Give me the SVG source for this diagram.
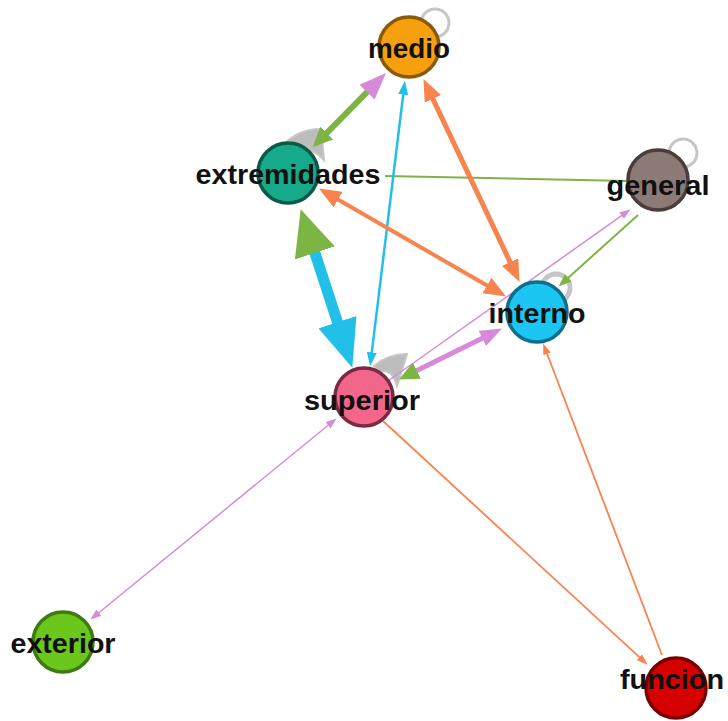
<svg xmlns="http://www.w3.org/2000/svg" width="728" height="721" viewBox="0 0 728 721">
<style>
.e{fill:none;stroke-linecap:butt}
.g{stroke:#7DB544}.v{stroke:#D68AD9}.o{stroke:#F7844F}.c{stroke:#22C0E8}
.loop{fill:none;stroke:#C6C6C6}
.n{stroke-width:3.5}
.lbl{font-family:"Liberation Sans",Arial,Helvetica,sans-serif;font-weight:bold;font-size:28px;fill:#111;text-anchor:middle}
</style>
<defs>
<marker id="vS" viewBox="0 0 10 10" refX="0.5" refY="5" markerWidth="11" markerHeight="8" preserveAspectRatio="none" orient="auto-start-reverse" markerUnits="userSpaceOnUse"><path d="M0,0L10,5L0,10Z" fill="#D68AD9"/></marker>
<marker id="vM" viewBox="0 0 10 10" refX="0.5" refY="5" markerWidth="22" markerHeight="17" preserveAspectRatio="none" orient="auto-start-reverse" markerUnits="userSpaceOnUse"><path d="M0,0L10,5L0,10Z" fill="#D68AD9"/></marker>
<marker id="vL" viewBox="0 0 10 10" refX="0.5" refY="5" markerWidth="27" markerHeight="21" preserveAspectRatio="none" orient="auto-start-reverse" markerUnits="userSpaceOnUse"><path d="M0,0L10,5L0,10Z" fill="#D68AD9"/></marker>
<marker id="oS" viewBox="0 0 10 10" refX="0.5" refY="5" markerWidth="11" markerHeight="8" preserveAspectRatio="none" orient="auto-start-reverse" markerUnits="userSpaceOnUse"><path d="M0,0L10,5L0,10Z" fill="#F7844F"/></marker>
<marker id="oM" viewBox="0 0 10 10" refX="0.5" refY="5" markerWidth="22" markerHeight="18" preserveAspectRatio="none" orient="auto-start-reverse" markerUnits="userSpaceOnUse"><path d="M0,0L10,5L0,10Z" fill="#F7844F"/></marker>
<marker id="gS" viewBox="0 0 10 10" refX="0.5" refY="5" markerWidth="13" markerHeight="10" preserveAspectRatio="none" orient="auto-start-reverse" markerUnits="userSpaceOnUse"><path d="M0,0L10,5L0,10Z" fill="#7DB544"/></marker>
<marker id="gM" viewBox="0 0 10 10" refX="0.5" refY="5" markerWidth="20" markerHeight="18" preserveAspectRatio="none" orient="auto-start-reverse" markerUnits="userSpaceOnUse"><path d="M0,0L10,5L0,10Z" fill="#7DB544"/></marker>
<marker id="gL" viewBox="0 0 10 10" refX="0.5" refY="5" markerWidth="46" markerHeight="42" preserveAspectRatio="none" orient="auto-start-reverse" markerUnits="userSpaceOnUse"><path d="M0,0L10,5L0,10Z" fill="#7DB544"/></marker>
<marker id="cS" viewBox="0 0 10 10" refX="0.5" refY="5" markerWidth="14" markerHeight="10" preserveAspectRatio="none" orient="auto-start-reverse" markerUnits="userSpaceOnUse"><path d="M0,0L10,5L0,10Z" fill="#22C0E8"/></marker>
<marker id="cL" viewBox="0 0 10 10" refX="0.5" refY="5" markerWidth="48" markerHeight="40" preserveAspectRatio="none" orient="auto-start-reverse" markerUnits="userSpaceOnUse"><path d="M0,0L10,5L0,10Z" fill="#22C0E8"/></marker>
</defs>
<rect width="728" height="721" fill="#fff"/>
<g id="connectors">
<circle class="loop" cx="435" cy="23" r="14" stroke-width="3"/>
<circle class="loop" cx="683" cy="153" r="14" stroke-width="3"/>
<circle class="loop" cx="556" cy="288" r="14" stroke-width="5"/>
<path d="M282,146 Q298,129 321,129 L324,160 Q312,146 292,150 Z" fill="#BDBDBD" stroke="#C6C6C6" stroke-width="2"/>
<path d="M374,366 Q388,354 407,354 L397,386 Q392,368 380,372 Z" fill="#BDBDBD" stroke="#C6C6C6" stroke-width="2"/>
<line class="e g" x1="385" y1="176" x2="628" y2="181" stroke-width="2"/>
<line class="e c" x1="403.3" y1="93.9" x2="371.7" y2="353.1" stroke-width="2.5" marker-start="url(#cS)" marker-end="url(#cS)"/>
<line class="e o" x1="432.4" y1="97.9" x2="510.6" y2="263.1" stroke-width="5" marker-start="url(#oM)" marker-end="url(#oM)"/>
<line class="e o" x1="337.1" y1="199" x2="487.9" y2="286" stroke-width="4" marker-start="url(#oM)" marker-end="url(#oM)"/>
<line class="e g" x1="368" y1="91.2" x2="326" y2="133.8" stroke-width="6" marker-start="url(#vL)" marker-end="url(#gM)"/>
<line class="e c" x1="314.2" y1="250.7" x2="338.2" y2="324.4" stroke-width="11" marker-start="url(#gL)" marker-end="url(#cL)"/>
<line class="e g" x1="567.7" y1="278.3" x2="638" y2="215" stroke-width="2" marker-start="url(#gS)"/>
<line class="e v" x1="388" y1="381" x2="622" y2="215.4" stroke-width="1.5" marker-end="url(#vS)"/>
<line class="e v" x1="415.9" y1="371.1" x2="483.3" y2="337.8" stroke-width="5" marker-start="url(#gM)" marker-end="url(#vM)"/>
<line class="e v" x1="328.5" y1="425" x2="98.5" y2="613" stroke-width="1.5" marker-start="url(#vS)" marker-end="url(#vS)"/>
<line class="e o" x1="383" y1="421" x2="639.9" y2="657.6" stroke-width="1.8" marker-end="url(#oS)"/>
<line class="e o" x1="662" y1="655" x2="546.9" y2="353.3" stroke-width="1.8" marker-end="url(#oS)"/>
</g>
<g id="node-medio"><circle class="n" cx="409" cy="47" r="30" fill="#F5A00C" stroke="#8A5A08"/><text class="lbl" x="409" y="58" textLength="82" lengthAdjust="spacingAndGlyphs">medio</text></g>
<g id="node-extremidades"><circle class="n" cx="288" cy="173" r="30" fill="#16A98A" stroke="#0B5A48"/><text class="lbl" x="288" y="184" textLength="185" lengthAdjust="spacingAndGlyphs">extremidades</text></g>
<g id="node-general"><circle class="n" cx="658" cy="180" r="30" fill="#8C7A77" stroke="#4A3C3A"/><text class="lbl" x="658" y="195" textLength="103" lengthAdjust="spacingAndGlyphs">general</text></g>
<g id="node-interno"><circle class="n" cx="537" cy="312" r="30" fill="#1CC6F2" stroke="#0C6F8C"/><text class="lbl" x="537" y="323" textLength="97" lengthAdjust="spacingAndGlyphs">interno</text></g>
<g id="node-superior"><circle class="n" cx="364" cy="397" r="29" fill="#F2668C" stroke="#7A2A42"/><text class="lbl" x="362" y="410" textLength="116" lengthAdjust="spacingAndGlyphs">superior</text></g>
<g id="node-exterior"><circle class="n" cx="63" cy="642" r="30" fill="#6CC71C" stroke="#3E7A12"/><text class="lbl" x="63" y="653" textLength="105" lengthAdjust="spacingAndGlyphs">exterior</text></g>
<g id="node-funcion"><circle class="n" cx="676" cy="688" r="30" fill="#D60000" stroke="#7A0000"/><text class="lbl" x="672" y="689" textLength="104" lengthAdjust="spacingAndGlyphs">funcion</text></g>
</svg>
